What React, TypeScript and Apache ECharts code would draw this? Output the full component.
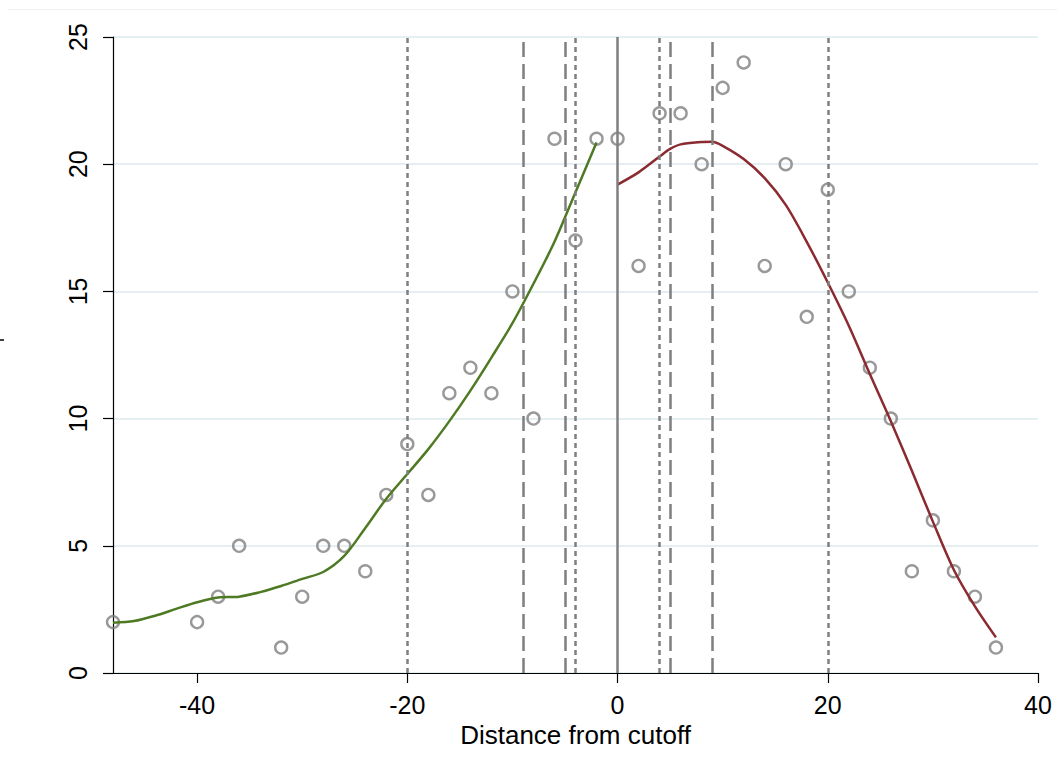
import React, { useEffect, useRef } from "react";
import * as echarts from "echarts";

const pointX = [-48, -40, -38, -36, -32, -30, -28, -26, -24, -22, -20, -18, -16, -14, -12, -10, -8, -6, -4, -2, 0, 2, 4, 6, 8, 10, 12, 14, 16, 18, 20, 22, 24, 26, 28, 30, 32, 34, 36];
const pointY = [2, 2, 3, 5, 1, 3, 5, 5, 4, 7, 9, 7, 11, 12, 11, 15, 10, 21, 17, 21, 21, 16, 22, 22, 20, 23, 24, 16, 20, 14, 19, 15, 12, 10, 4, 6, 4, 3, 1];

const leftFitX = [-48, -46, -44, -42, -40, -38, -36, -34, -32, -30, -28, -26, -24, -22, -20, -18, -16, -14, -12, -10, -8, -6, -4, -2];
const leftFitY = [1.98, 2.04, 2.25, 2.52, 2.78, 2.97, 3.0, 3.18, 3.42, 3.7, 3.97, 4.6, 5.7, 6.85, 7.82, 8.8, 9.9, 11.1, 12.4, 13.75, 15.3, 16.95, 18.9, 20.85];

const rightFitX = [0, 2, 4, 5, 6, 8, 9, 10, 12, 14, 16, 18, 20, 22, 24, 26, 28, 30, 32, 34, 36];
const rightFitY = [19.2, 19.68, 20.3, 20.6, 20.78, 20.87, 20.88, 20.72, 20.2, 19.45, 18.4, 16.95, 15.35, 13.65, 11.75, 9.9, 7.95, 5.95, 4.05, 2.62, 1.4];

const dottedLines = [-20, -4, 4, 20];
const dashedLines = [-9, -5, 5, 9];
const solidLines = [0];

const xTicks = [-40, -20, 0, 20, 40];
const xTitle = "Distance from cutoff";

export default function App() {
  const ref = useRef<HTMLDivElement>(null);
  useEffect(() => {
    if (!ref.current) return;
    const chart = echarts.init(ref.current, null, { renderer: "svg" });
    const font = "'Liberation Sans', Arial, Helvetica, sans-serif";
    const gray = "#7f7f7f";
    const markData: any[] = [
      ...dottedLines.map((v) => ({ xAxis: v, lineStyle: { type: [5, 4], color: gray, width: 2.5 } })),
      ...dashedLines.map((v) => ({ xAxis: v, lineStyle: { type: [15, 7], color: gray, width: 2.5 } })),
      ...solidLines.map((v) => ({ xAxis: v, lineStyle: { type: "solid", color: gray, width: 2.5 } })),
    ];
    chart.setOption({
      animation: false,
      backgroundColor: "#ffffff",
      textStyle: { fontFamily: font },
      grid: { left: 113, right: 19, top: 37, bottom: 97, containLabel: false },
      xAxis: {
        type: "value",
        min: -48,
        max: 40,
        name: xTitle,
        nameLocation: "middle",
        nameGap: 45,
        nameTextStyle: { fontSize: 26, color: "#000", fontFamily: font },
        axisLine: { show: true, onZero: false, lineStyle: { color: "#000", width: 1.2 } },
        axisTick: { show: true, length: 10, customValues: xTicks, lineStyle: { color: "#000", width: 1.2 } },
        axisLabel: { customValues: xTicks, fontSize: 25, color: "#000", fontFamily: font, margin: 19 },
        splitLine: { show: false },
      },
      yAxis: {
        type: "value",
        min: 0,
        max: 25,
        interval: 5,
        axisLine: { show: true, onZero: false, lineStyle: { color: "#000", width: 1.2 } },
        axisTick: { show: true, length: 10, lineStyle: { color: "#000", width: 1.2 } },
        axisLabel: { rotate: 90, fontSize: 25, color: "#000", fontFamily: font, margin: 23 },
        splitLine: { show: true, lineStyle: { color: "#e5eef1", width: 2 } },
      },
      graphic: [
        { type: "line", shape: { x1: 8, y1: 9.5, x2: 1057, y2: 9.5 }, style: { stroke: "#edf1f3", lineWidth: 1 } },
        { type: "line", shape: { x1: 0, y1: 340, x2: 4, y2: 340 }, style: { stroke: "#000", lineWidth: 1.5 } },
      ],
      series: [
        {
          type: "line",
          data: [],
          z: 2,
          markLine: {
            silent: true,
            symbol: "none",
            label: { show: false },
            lineStyle: { color: gray, width: 2.5 },
            data: markData,
          },
        },
        {
          type: "scatter",
          z: 3,
          symbol: "circle",
          symbolSize: 12,
          itemStyle: { color: "rgba(0,0,0,0)", borderColor: gray, borderWidth: 2.4 },
          data: pointX.map((x, i) => [x, pointY[i]]),
        },
        {
          type: "line",
          z: 4,
          showSymbol: false,
          smooth: 0.3,
          lineStyle: { color: "#4e7a24", width: 2.5 },
          data: leftFitX.map((x, i) => [x, leftFitY[i]]),
        },
        {
          type: "line",
          z: 4,
          showSymbol: false,
          smooth: 0.3,
          lineStyle: { color: "#8b2a30", width: 2.5 },
          data: rightFitX.map((x, i) => [x, rightFitY[i]]),
        },
      ],
    });
    return () => chart.dispose();
  }, []);
  return <div ref={ref} style={{ position: "absolute", left: 0, top: 0, width: 1057, height: 770 }} />;
}
